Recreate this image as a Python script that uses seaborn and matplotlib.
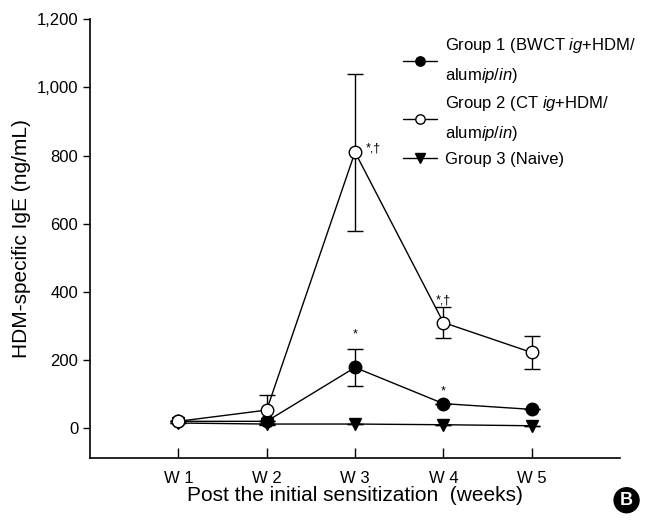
import matplotlib
matplotlib.use("Agg")
import matplotlib.pyplot as plt
import seaborn as sns
import pandas as pd
import numpy as np
from matplotlib.ticker import FuncFormatter

weeks = [1, 2, 3, 4, 5]
week_labels = ["W 1", "W 2", "W 3", "W 4", "W 5"]
g1_mean = [20, 20, 178, 72, 55]
g1_err = [0, 0, 55, 0, 0]
g2_mean = [20, 53, 810, 310, 222]
g2_err = [0, 43, 230, 45, 47]
g3_mean = [15, 12, 12, 10, 7]
g3_err = [0, 0, 0, 0, 0]
group_names = ["Group 1 (BWCT $\\mathit{ig}$+HDM/\nalum$\\mathit{ip/in}$)",
               "Group 2 (CT $\\mathit{ig}$+HDM/\nalum$\\mathit{ip/in}$)",
               "Group 3 (Naive)"]

sns.set_theme(style="ticks")
plt.rcParams['font.family'] = ['Liberation Sans', 'DejaVu Sans']
plt.rcParams['mathtext.fontset'] = 'custom'
plt.rcParams['mathtext.rm'] = 'Liberation Sans'
plt.rcParams['mathtext.it'] = 'Liberation Sans:italic'
for k in ['text.color', 'axes.labelcolor', 'xtick.color', 'ytick.color', 'axes.edgecolor']:
    plt.rcParams[k] = 'black'

df = pd.DataFrame({
    "week": weeks * 3,
    "value": g1_mean + g2_mean + g3_mean,
    "err": g1_err + g2_err + g3_err,
    "group": [group_names[0]] * 5 + [group_names[1]] * 5 + [group_names[2]] * 5,
})

fig = plt.figure(figsize=(6.52, 5.2), dpi=100)
ax = fig.add_axes([0.138, 0.119, 0.813, 0.844])

styles = {
    group_names[0]: dict(marker="o", mfc="black", ms=9),
    group_names[1]: dict(marker="o", mfc="white", ms=9),
    group_names[2]: dict(marker="v", mfc="black", ms=9),
}
for name in group_names:
    sub = df[df.group == name]
    ax.errorbar(sub.week, sub.value, yerr=sub.err, fmt="none", ecolor="black",
                elinewidth=1.0, capsize=5.5, capthick=1.0, zorder=2)
for name in [group_names[2], group_names[0], group_names[1]]:
    sub = df[df.group == name]
    st = styles[name]
    sns.lineplot(data=sub, x="week", y="value", ax=ax, color="black", lw=1.0,
                 marker=st["marker"], markersize=st["ms"], markerfacecolor=st["mfc"],
                 markeredgecolor="black", markeredgewidth=1.0, label=name, zorder=3)

ax.text(3.12, 820, "*,†", fontsize=9, ha="left", va="center")
ax.text(4.0, 375, "*,†", fontsize=9, ha="center", va="center")
ax.text(3.0, 275, "*", fontsize=9, ha="center", va="center")
ax.text(4.0, 108, "*", fontsize=9, ha="center", va="center")

ax.set_xlim(0, 6)
ax.set_ylim(-88, 1200)
ax.set_xticks(weeks)
ax.set_xticklabels(week_labels)
ax.set_yticks([0, 200, 400, 600, 800, 1000, 1200])
ax.yaxis.set_major_formatter(FuncFormatter(lambda v, p: f"{int(v):,}"))
ax.tick_params(axis="y", labelsize=12, direction="out", length=5, width=1)
ax.tick_params(axis="x", labelsize=12, direction="in", length=7, width=1, pad=9)
for s in ["top", "right"]:
    ax.spines[s].set_visible(False)
for s in ["left", "bottom"]:
    ax.spines[s].set_linewidth(1.2)
    ax.spines[s].set_color("black")
ax.set_xlabel("Post the initial sensitization  (weeks)", fontsize=15, labelpad=0)
ax.set_ylabel("HDM-specific IgE (ng/mL)", fontsize=15, labelpad=4)

h, l = ax.get_legend_handles_labels()
order = [l.index(n) for n in group_names]
leg = ax.legend([h[i] for i in order], [l[i] for i in order], loc="upper left",
                bbox_to_anchor=(0.563, 0.995), frameon=False, fontsize=12,
                handlelength=2.0, labelspacing=0.55, handletextpad=0.5,
                markerscale=0.75)
for t in leg.get_texts():
    t.set_linespacing(1.75)

fig.text(0.961, 0.038, "B", fontsize=13, fontweight="bold", color="white",
         ha="center", va="center",
         bbox=dict(boxstyle="circle,pad=0.22", fc="black", ec="black"))

fig.savefig("out.png", dpi=100)
